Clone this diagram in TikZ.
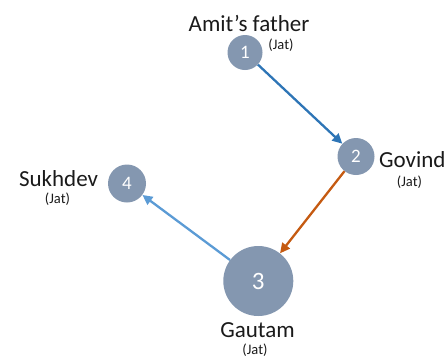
\documentclass[tikz,border=0pt]{standalone}
\usepackage{fontspec}
\setmainfont{Carlito}
\usetikzlibrary{arrows.meta}
\definecolor{nodefill}{HTML}{8497B0}
\definecolor{arrblue}{HTML}{2E75B6}
\definecolor{arrorange}{HTML}{C55A11}
\definecolor{arrlight}{HTML}{5B9BD5}
\definecolor{labeltext}{HTML}{1A1A1A}
\tikzset{
  person/.style={circle, fill=nodefill, inner sep=0pt, text=white,
    font=\fontsize{19}{19}\selectfont},
  fullname/.style={anchor=base, text=labeltext, inner sep=0pt,
    font=\fontsize{23}{23}\selectfont},
  caste/.style={text=labeltext, inner sep=0pt,
    font=\fontsize{14.5}{14.5}\selectfont},
  link/.style={line width=2.3pt, -{Triangle[length=10pt,width=9.5pt]}}
}
\begin{document}
\begin{tikzpicture}[x=1pt,y=-1pt]
  \useasboundingbox (0,0) rectangle (447,357);
  % people
  \node[person, minimum size=35pt] (p1) at (245,52.5) {1};
  \node[person, minimum size=37pt] (p2) at (356,156.5) {2};
  \node[person, minimum size=70pt, font=\fontsize{25}{25}\selectfont] (p3) at (258.3,281) {3};
  \node[person, minimum size=38pt] (p4) at (127,183.5) {4};
  % names
  \node[fullname] (n1) at (249,31) {Amit’s father};
  \node[caste] (c1) at (281,45) {(Jat)};
  \node[fullname, anchor=base west] (n2) at (379,167) {Govind};
  \node[caste] (c2) at (409.5,182) {(Jat)};
  \node[fullname] (n4) at (58.5,186) {Sukhdev};
  \node[caste] (c4) at (57.5,199) {(Jat)};
  \node[fullname] (n3) at (257.5,337) {Gautam};
  \node[caste] (c3) at (255,350) {(Jat)};
  % relations
  \draw[link, arrblue] (p1) -- (p2);
  \draw[link, arrorange] (p2) -- (p3);
  \draw[link, arrlight] (p3) -- (p4);
\end{tikzpicture}
\end{document}
